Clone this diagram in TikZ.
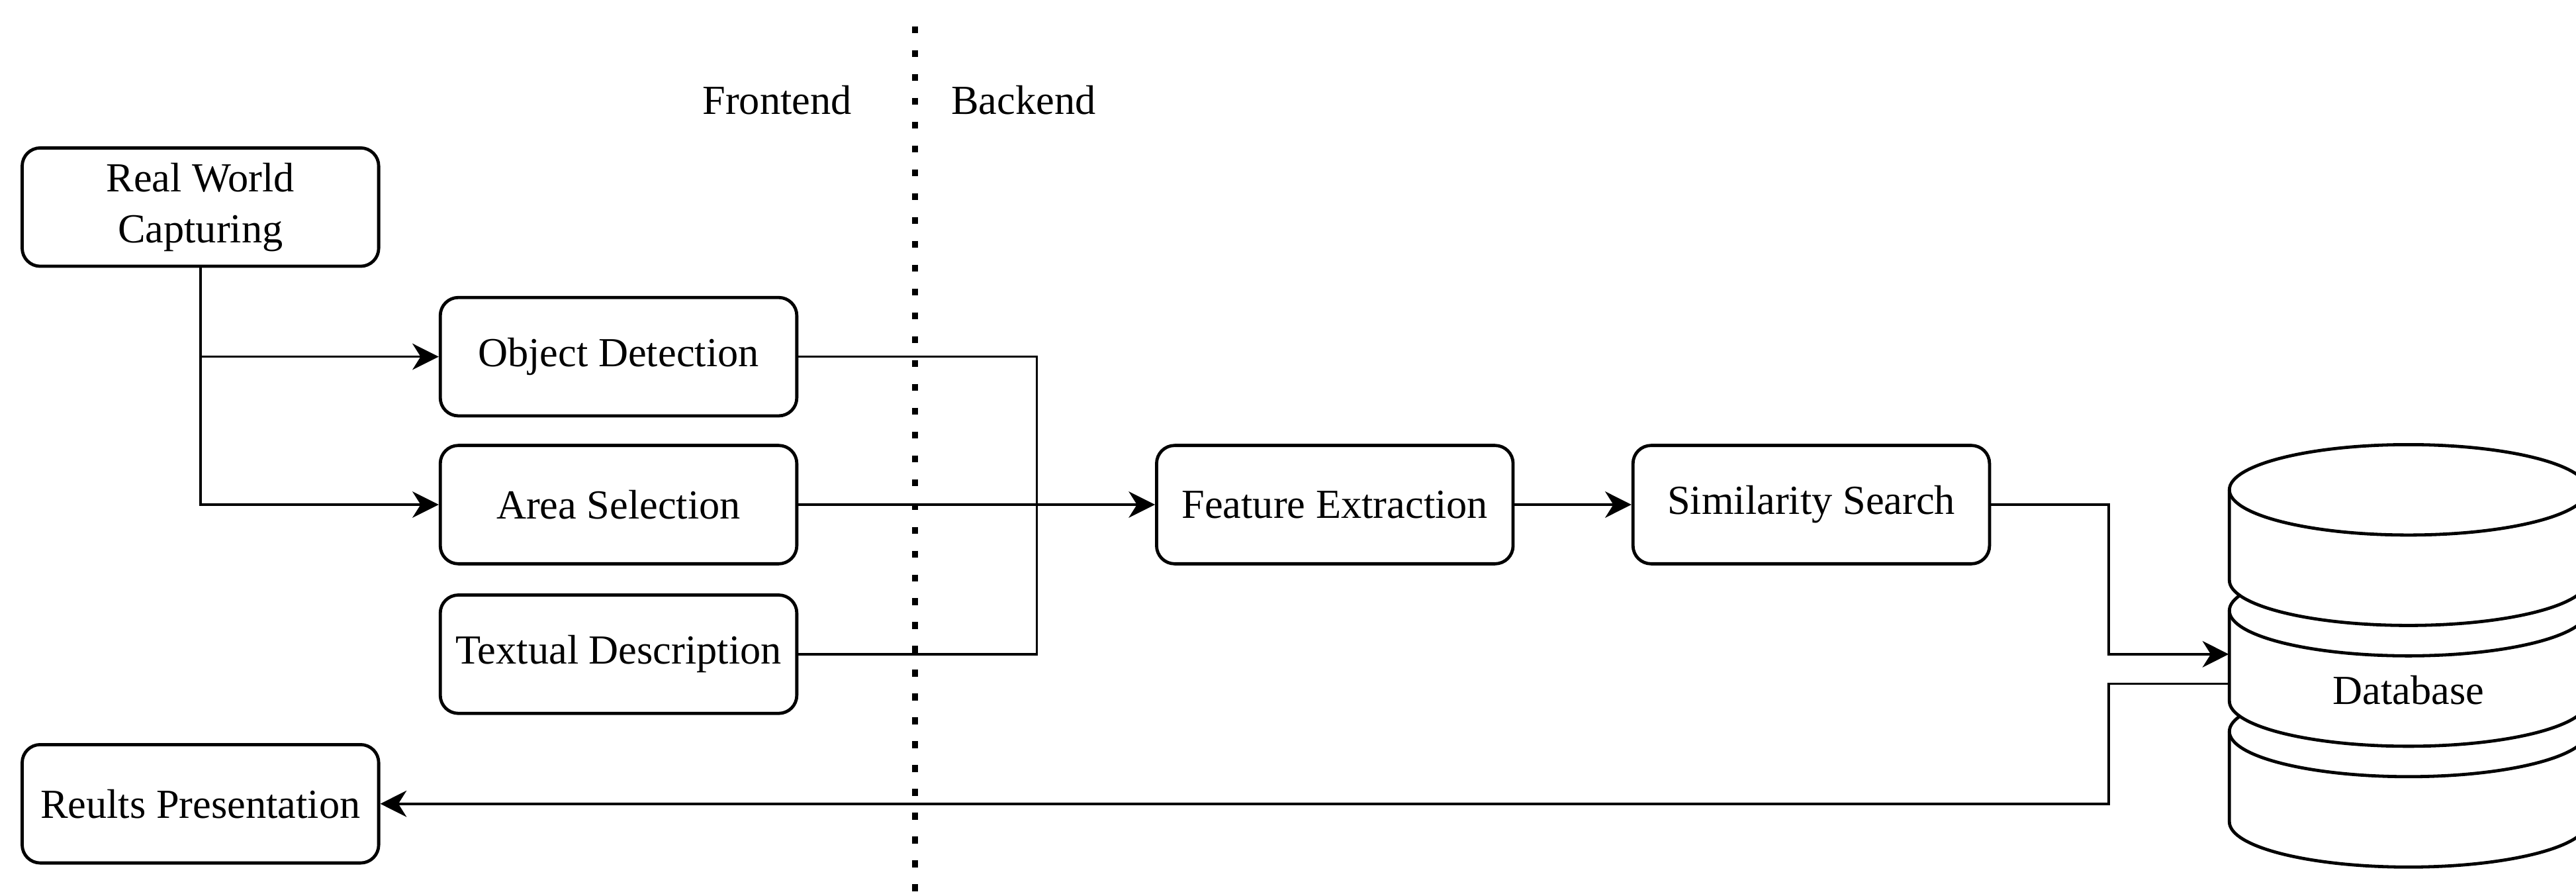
\documentclass[tikz,border=0pt]{standalone}
\usepackage{fontspec}
\setmainfont{Liberation Serif}
\usetikzlibrary{arrows.meta,positioning,calc}

\begin{document}
\begin{tikzpicture}[x=0.2mm,y=0.2mm,font=\fontsize{14.3}{17.6}\selectfont]
\tikzstyle{blk} = [draw=black, fill=white, rounded corners=2.2mm, minimum width=43.4mm, minimum height=14.4mm, inner sep=0pt, line width=1.1pt, align=center]
\tikzstyle{con} = [line width=0.8pt, -{Stealth[length=3.2mm,width=3.2mm,inset=1mm]}]
\tikzstyle{lnk} = [line width=0.8pt]
\useasboundingbox (0,0) rectangle (1568,545);

% frontend / backend split
\draw[line width=0.72mm, dash pattern=on 0.86mm off 2.04mm] (557,529) -- (557,0);
\node (FR) at (473,484) {Frontend};
\node (BK) at (623,484) {Backend};

\node[blk] (RWC) at (122,419) {Real World\\Capturing};
\node[blk] (OD) at (376.5,328) {Object Detection};
\node[blk] (AS) at (376.5,238) {Area Selection};
\node[blk] (TD) at (376.5,147) {Textual Description};
\node[blk] (RP) at (122,56) {Reults Presentation};
\node[blk] (FE) at (812.5,238) {Feature Extraction};
\node[blk] (SS) at (1102.5,238) {Similarity Search};

% database, three stacked discs
\node[minimum width=43.6mm, minimum height=51.1mm, inner sep=0pt] (DB) at (1466,147) {};
\foreach \k in {2,1,0} {
  \pgfmathsetmacro\yt{247-73.5*\k}
  \filldraw[fill=white, line width=1.1pt] (1357,\yt) -- ++(0,-55) arc (180:360:109 and 27.5) -- ++(0,55) arc (0:180:109 and 27.5) -- cycle;
  \draw[line width=1.1pt] (1357,\yt) arc (180:360:109 and 27.5);
}
\node (DBL) at (1466,125) {Database};

\coordinate (J) at (631,238);
\coordinate (DBO) at ($(DB.west)+(0,-18)$);

\draw[con] (RWC.south) |- (OD.west);
\draw[con] (RWC.south) |- (AS.west);
\draw[lnk] (OD.east) -| (J);
\draw[lnk] (TD.east) -| (J);
\draw[con] (AS.east) -- (FE.west);
\draw[con] (FE.east) -- (SS.west);
\draw[con] (SS.east) -| ($(DB.west)+(-73,0)$) -- (DB.west);
\draw[con] (DBO) -- ++(-73,0) |- (RP.east);

\end{tikzpicture}
\end{document}
